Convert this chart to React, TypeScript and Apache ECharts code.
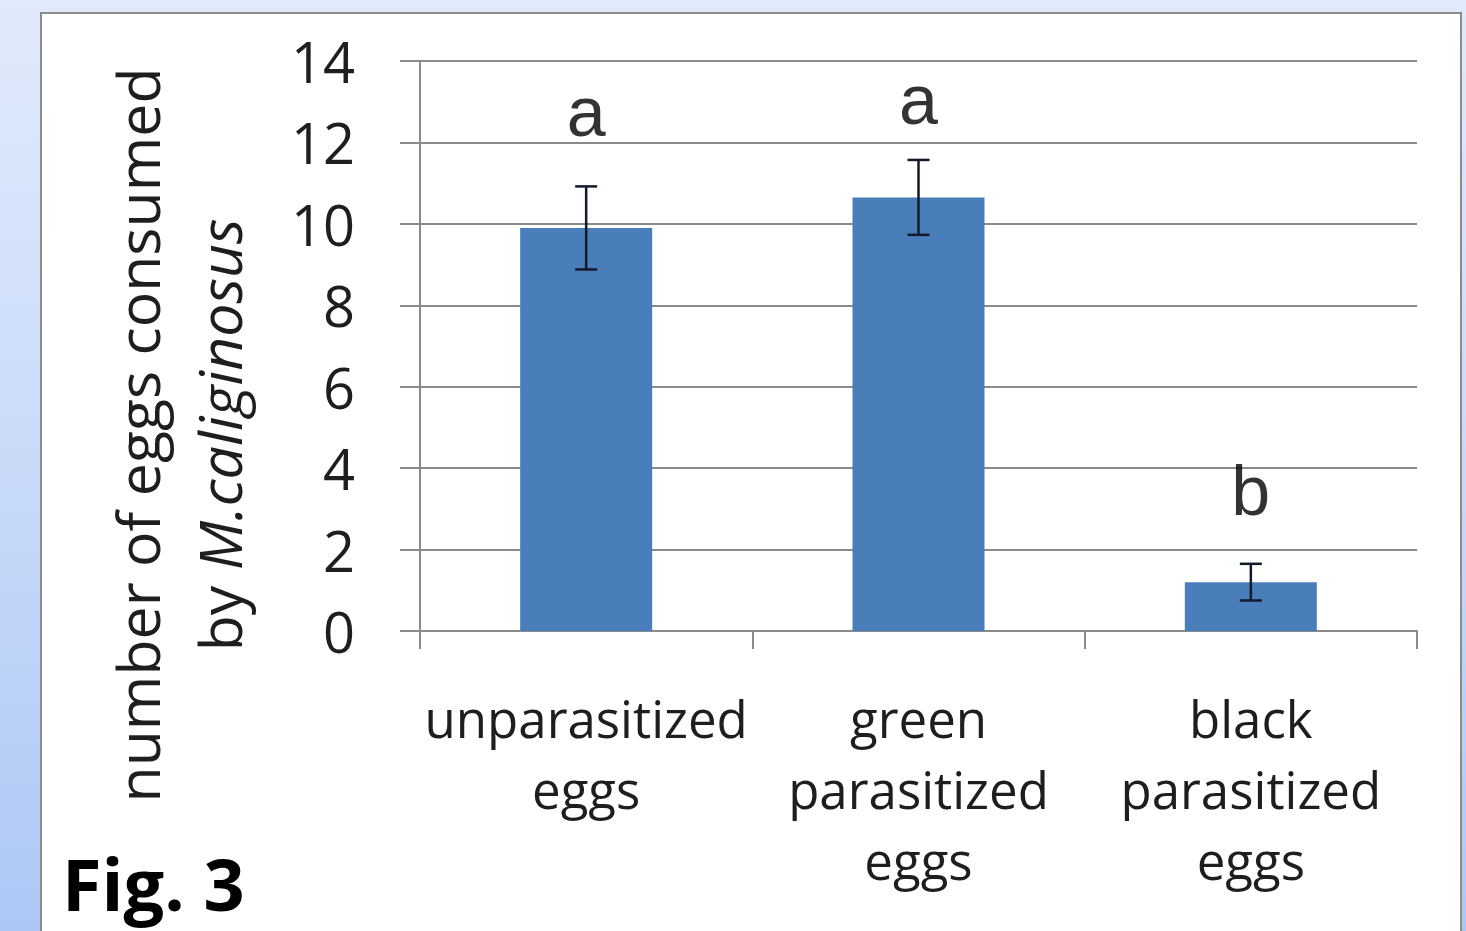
import React, { useEffect, useRef } from "react";
import * as echarts from "echarts";

const categories = ["unparasitized\neggs", "green\nparasitized\neggs", "black\nparasitized\neggs"];
const means = [9.9, 10.65, 1.2];
const errors = [1.02, 0.92, 0.45];
const letters = ["a", "a", "b"];
const letterY = [12.75, 13.05, 3.45];
const yTicks = { min: 0, max: 14, interval: 2 };

const FONT = "'Open Sans', sans-serif";

export default function App() {
  const ref = useRef<HTMLDivElement>(null);
  useEffect(() => {
    const chart = echarts.init(ref.current!, null, { renderer: "svg" });
    chart.setOption({
      animation: false,
      backgroundColor: "transparent",
      grid: { left: 420, top: 61, width: 997, height: 570, containLabel: false },
      xAxis: {
        type: "category",
        data: categories,
        axisLine: { lineStyle: { color: "#8a8a8a", width: 2 } },
        axisTick: { show: true, length: 18, alignWithLabel: false, lineStyle: { color: "#8a8a8a", width: 2 } },
        axisLabel: { color: "#1e1e1e", fontSize: 51, fontFamily: FONT, lineHeight: 71, margin: 51, interval: 0 },
      },
      yAxis: {
        type: "value",
        min: yTicks.min,
        max: yTicks.max,
        interval: yTicks.interval,
        axisLine: { show: true, lineStyle: { color: "#8a8a8a", width: 2 } },
        axisTick: { show: true, length: 20, lineStyle: { color: "#8a8a8a", width: 2 } },
        splitLine: { lineStyle: { color: "#8a8a8a", width: 2 } },
        axisLabel: { color: "#1e1e1e", fontSize: 56, fontFamily: FONT, margin: 65 },
      },
      series: [
        {
          type: "bar",
          data: means,
          barWidth: 132,
          itemStyle: { color: "#4a7ebb" },
        },
        {
          type: "custom",
          data: means.map((m, i) => [i, m, errors[i]]),
          renderItem: (params: any, api: any) => {
            const x = api.value(0);
            const m = api.value(1);
            const e = api.value(2);
            const top = api.coord([x, m + e]);
            const bot = api.coord([x, m - e]);
            const cap = 11;
            const style = { stroke: "#141a2a", lineWidth: 2.5 };
            return {
              type: "group",
              children: [
                { type: "line", shape: { x1: top[0], y1: top[1], x2: bot[0], y2: bot[1] }, style },
                { type: "line", shape: { x1: top[0] - cap, y1: top[1], x2: top[0] + cap, y2: top[1] }, style },
                { type: "line", shape: { x1: bot[0] - cap, y1: bot[1], x2: bot[0] + cap, y2: bot[1] }, style },
              ],
            };
          },
          z: 5,
        },
        {
          type: "scatter",
          data: letterY.map((v, i) => ({ value: [i, v], label: { formatter: letters[i] } })),
          symbolSize: 0,
          label: {
            show: true,
            position: "inside",
            color: "#000",
            fontSize: 70,
            fontFamily: "'Liberation Sans', Arial, sans-serif",
          },
        },
      ],
      graphic: [
        {
          type: "text",
          x: 137,
          y: 435,
          rotation: Math.PI / 2,
          style: {
            text: "number of eggs consumed",
            font: `59px ${FONT}`,
            fill: "#1e1e1e",
            align: "center",
            verticalAlign: "middle",
          },
        },
        {
          type: "text",
          x: 219,
          y: 435,
          rotation: Math.PI / 2,
          style: {
            text: "{n|by }{i|M.caliginosus}",
            align: "center",
            verticalAlign: "middle",
            rich: {
              n: { fontSize: 59, fontFamily: FONT, fill: "#1e1e1e" } as any,
              i: { fontSize: 59, fontFamily: FONT, fontStyle: "italic", fill: "#1e1e1e" } as any,
            },
          },
        },
        {
          type: "text",
          x: 62,
          y: 883,
          style: {
            text: "Fig. 3",
            font: `bold 72px ${FONT}`,
            fill: "#000",
            verticalAlign: "middle",
          },
        },
      ],
    });
    return () => chart.dispose();
  }, []);

  return (
    <div
      style={{
        position: "absolute",
        left: 0,
        top: 0,
        width: 1466,
        height: 931,
        overflow: "hidden",
        background: "linear-gradient(to bottom, #e0eafb 0%, #c9daf9 50%, #adc7f5 100%)",
      }}
    >
      <div
        style={{
          position: "absolute",
          left: 40,
          top: 12,
          width: 1418,
          height: 940,
          background: "#ffffff",
          border: "2px solid #8c8c8c",
        }}
      />
      <div ref={ref} style={{ position: "absolute", left: 0, top: 0, width: 1466, height: 931 }} />
    </div>
  );
}
